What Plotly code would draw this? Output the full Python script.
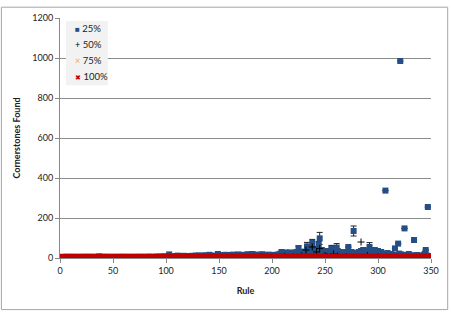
import plotly.graph_objects as go

rules = list(range(1, 351))

# 25% series (values for rules 1..350)
v25 = [
    0,0,1,0,0,1,0,0,0,1,0,0,0,1,0,0,1,0,0,0,1,0,0,1,0,
    0,1,0,0,1,0,0,2,0,1,0,8,1,0,0,1,0,2,0,0,1,0,2,0,3,
    2,4,1,0,3,1,0,2,0,1,2,0,1,3,0,2,1,0,2,1,0,3,2,1,4,
    3,1,5,2,0,4,3,1,6,2,3,5,1,4,2,6,3,2,7,4,2,5,8,3,6,
    4,7,18,5,3,8,6,4,9,5,12,7,4,10,6,8,11,5,9,7,6,10,8,5,11,
    9,7,12,8,6,13,10,8,11,7,9,14,8,10,6,16,9,7,12,8,11,10,9,20,13,
    10,8,14,11,9,16,12,15,10,8,13,11,17,9,12,10,14,18,11,9,13,16,10,15,12,
    11,19,14,10,13,20,18,12,15,11,17,14,10,16,13,19,12,9,15,11,14,17,8,12,10,
    13,11,16,14,9,18,12,22,30,15,18,14,28,20,16,25,28,12,19,22,17,26,30,21,50,
    18,24,20,32,16,22,27,58,18,25,30,40,75,22,35,28,45,30,68,98,25,40,33,28,20,
    35,28,22,30,18,45,20,32,40,26,52,35,22,30,18,28,25,20,24,30,18,55,22,16,30,
    20,135,26,18,22,15,30,24,35,20,40,38,28,36,22,18,55,30,20,25,15,40,22,18,35,
    20,12,30,15,18,22,337,10,25,16,12,20,18,8,15,48,14,10,72,22,985,18,12,10,148,
    15,8,12,20,10,14,6,10,90,12,8,15,10,6,12,8,10,14,20,40,12,255,8,10,6,
]

# error bars on some 25% points
err_rules = [225, 233, 238, 244, 245, 256, 261, 277, 292]
err_vals = [10, 20, 18, 15, 30, 18, 20, 25, 22]

# 50% series (sparse visible points)
r50 = [190, 200, 212, 220, 228, 232, 238, 242, 245, 250, 252, 258, 262, 270, 284, 290, 300]
v50 = [6, 4, 8, 5, 10, 40, 55, 30, 48, 12, 8, 20, 10, 6, 80, 12, 5]

# 75% series
r75 = [150, 200, 240, 250, 265, 280, 300]
v75 = [2, 3, 5, 4, 6, 3, 2]

# 100% series: all rules at ~0
v100 = [0] * len(rules)

series_names = ["25%", "50%", "75%", "100%"]
series_colors = ["#254E85", "#000000", "#F4A460", "#C00000"]
legend_glyphs = ["■", "+", "×", "✖"]

err_array = [None] * len(rules)
for r, e in zip(err_rules, err_vals):
    err_array[r - 1] = e

fig = go.Figure()
fig.add_trace(go.Scatter(
    x=rules, y=v25, mode="markers", name=series_names[0],
    marker=dict(symbol="square", size=6, color=series_colors[0]),
    error_y=dict(type="data", array=err_array, visible=True, color="#222222", thickness=1, width=3),
))
fig.add_trace(go.Scatter(
    x=r50, y=v50, mode="markers", name=series_names[1],
    marker=dict(symbol="cross-thin", size=5, color=series_colors[1], line=dict(color=series_colors[1], width=1)),
))
fig.add_trace(go.Scatter(
    x=r75, y=v75, mode="markers", name=series_names[2],
    marker=dict(symbol="x-thin", size=5, color=series_colors[2], line=dict(color=series_colors[2], width=1)),
))
fig.add_trace(go.Scatter(
    x=rules, y=v100, mode="markers", name=series_names[3],
    marker=dict(symbol="x", size=8, color=series_colors[3]),
))

# custom compact legend (like the reference)
annotations = []
row_y = [0.955, 0.889, 0.823, 0.757]
glyph_sizes = [8, 9, 9, 7]
for name, col, g, yy, gs in zip(series_names, series_colors, legend_glyphs, row_y, glyph_sizes):
    annotations.append(dict(
        xref="paper", yref="paper", x=0.036, y=yy, xanchor="left", yanchor="middle",
        text=f"<span style='color:{col};font-size:{gs}px'>{g}</span> {name}",
        showarrow=False, font=dict(size=9.5, color="#222222"),
    ))

fig.update_layout(
    width=451, height=312,
    margin=dict(l=60, r=19, t=15, b=54),
    paper_bgcolor="white", plot_bgcolor="white",
    font=dict(family="Lato, Open Sans, sans-serif", size=9, color="#222222"),
    showlegend=False,
    annotations=annotations,
    xaxis=dict(
        range=[0, 350], dtick=50, tick0=0,
        showgrid=False, zeroline=False,
        showline=True, linecolor="#888888", linewidth=1,
        ticks="outside", ticklen=4, tickcolor="#888888",
        title=dict(text="<b>Rule</b>", font=dict(size=9), standoff=12),
    ),
    yaxis=dict(
        range=[0, 1200], dtick=200, tick0=0,
        showgrid=True, gridcolor="#8C8C8C", gridwidth=1, zeroline=False,
        showline=True, linecolor="#888888", linewidth=1,
        ticks="outside", ticklen=4, tickcolor="#888888",
        title=dict(text="<b>Cornerstones Found</b>", font=dict(size=9), standoff=10),
    ),
    shapes=[
        dict(
            type="rect", xref="paper", yref="paper",
            x0=-0.158, x1=1.045, y0=-0.215, y1=1.045,
            line=dict(color="#A6A6A6", width=1), fillcolor="rgba(0,0,0,0)", layer="below",
        ),
        dict(
            type="rect", xref="paper", yref="paper",
            x0=0.0161, x1=0.129, y0=0.720, y1=0.988,
            line=dict(width=0), fillcolor="#F2F2F2", layer="above",
        ),
    ],
)

fig.write_html("out.html")
